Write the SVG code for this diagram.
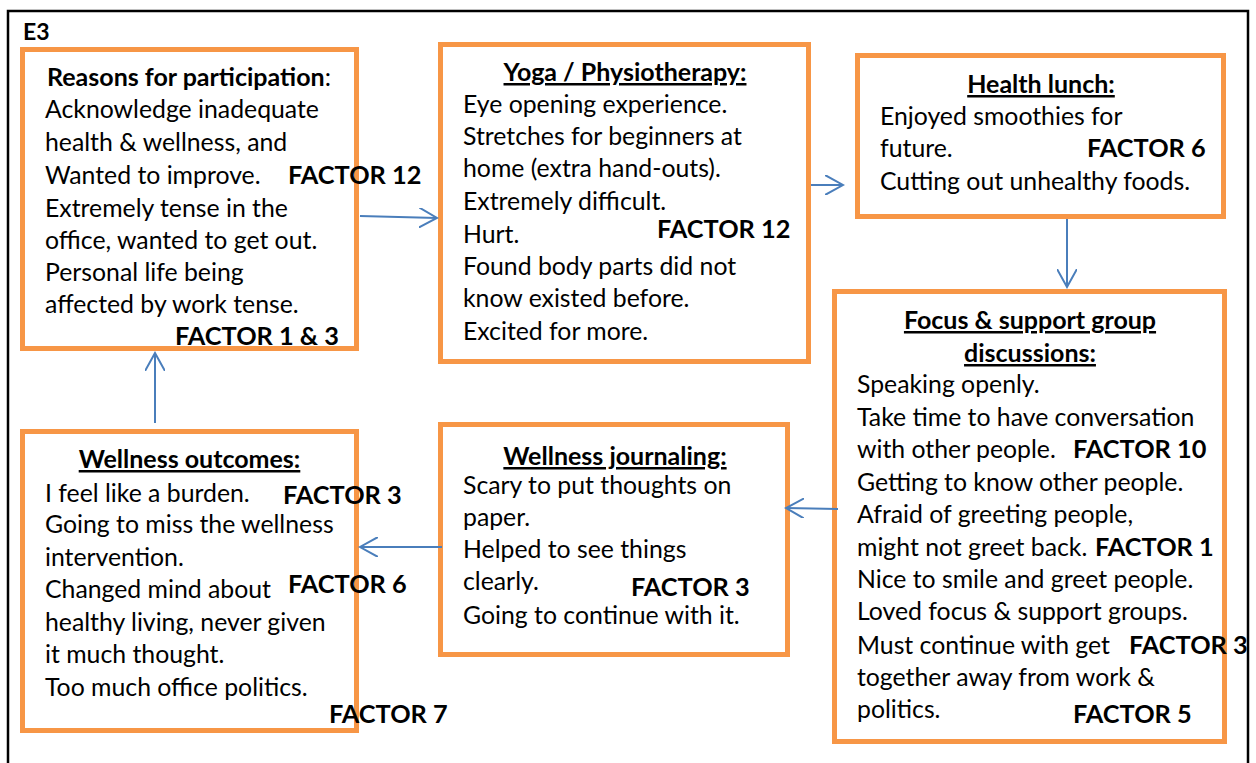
<svg xmlns="http://www.w3.org/2000/svg" width="1256" height="763" viewBox="0 0 1256 763">
  <style>
    .box { fill: #ffffff; stroke: #F79646; stroke-width: 5; }
    .frame { fill: none; stroke: #000000; stroke-width: 2.5; }
    text { font-family: Lato, "Open Sans", "Liberation Sans", sans-serif; fill: #000000; }
    .t { font-size: 24.8px; }
    .h { font-size: 25px; font-weight: bold; }
    .u { text-decoration: underline; }
    .f { font-size: 25.3px; font-weight: bold; }
    .lbl { font-size: 23px; font-weight: bold; }
    .conn { stroke: #4A7EBB; stroke-width: 2; fill: none; marker-end: url(#arrow); }
  </style>
  <defs>
    <marker id="arrow" viewBox="0 0 10 10" refX="9" refY="5" markerWidth="10" markerHeight="10" orient="auto" markerUnits="strokeWidth">
      <path d="M0,0 L9,5 L0,10" fill="none" stroke="#4A7EBB" stroke-width="1"/>
    </marker>
  </defs>

  <rect x="0" y="0" width="1256" height="763" fill="#ffffff"/>
  <rect class="frame" x="8" y="11" width="1240" height="800"/>
  <text class="lbl" x="23" y="40">E3</text>

  <g id="reasons">
    <rect class="box" x="22.5" y="49.5" width="334" height="299"/>
    <text x="47" y="86" class="h">Reasons for participation<tspan font-weight="normal">:</tspan></text>
    <text class="t" x="45" y="118">Acknowledge inadequate</text>
    <text class="t" x="45" y="151">health &amp; wellness, and</text>
    <text class="t" x="45" y="184">Wanted to improve.</text>
    <text class="t" x="45" y="217">Extremely tense in the</text>
    <text class="t" x="45" y="249">office, wanted to get out.</text>
    <text class="t" x="45" y="281">Personal life being</text>
    <text class="t" x="45" y="313">affected by work tense.</text>
    <text class="f" x="288" y="184">FACTOR 12</text>
    <text class="f" x="175" y="345">FACTOR 1 &amp; 3</text>
  </g>

  <g id="yoga">
    <rect class="box" x="440.5" y="44.5" width="368" height="317"/>
    <text class="h u" x="625" y="81" text-anchor="middle">Yoga / Physiotherapy:</text>
    <text class="t" x="463" y="113">Eye opening experience.</text>
    <text class="t" x="463" y="145">Stretches for beginners at</text>
    <text class="t" x="463" y="177">home (extra hand-outs).</text>
    <text class="t" x="463" y="210">Extremely difficult.</text>
    <text class="t" x="463" y="243">Hurt.</text>
    <text class="t" x="463" y="275">Found body parts did not</text>
    <text class="t" x="463" y="307">know existed before.</text>
    <text class="t" x="463" y="340">Excited for more.</text>
    <text class="f" x="657" y="238">FACTOR 12</text>
  </g>

  <g id="lunch">
    <rect class="box" x="857.5" y="55.5" width="366" height="161"/>
    <text class="h u" x="1041" y="93" text-anchor="middle">Health lunch:</text>
    <text class="t" x="880" y="125">Enjoyed smoothies for</text>
    <text class="t" x="880" y="157">future.</text>
    <text class="t" x="880" y="190">Cutting out unhealthy foods.</text>
    <text class="f" x="1087" y="157">FACTOR 6</text>
  </g>

  <g id="focus">
    <rect class="box" x="834.5" y="291.5" width="390" height="450"/>
    <text class="h u" x="1030" y="329" text-anchor="middle">Focus &amp; support group</text>
    <text class="h u" x="1030" y="362" text-anchor="middle">discussions:</text>
    <text class="t" x="857" y="393">Speaking openly.</text>
    <text class="t" x="857" y="426">Take time to have conversation</text>
    <text class="t" x="857" y="458">with other people.</text>
    <text class="t" x="857" y="491">Getting to know other people.</text>
    <text class="t" x="857" y="523">Afraid of greeting people,</text>
    <text class="t" x="857" y="556">might not greet back.</text>
    <text class="t" x="857" y="588">Nice to smile and greet people.</text>
    <text class="t" x="857" y="620">Loved focus &amp; support groups.</text>
    <text class="t" x="857" y="654">Must continue with get</text>
    <text class="t" x="857" y="686">together away from work &amp;</text>
    <text class="t" x="857" y="718">politics.</text>
    <text class="f" x="1073" y="458">FACTOR 10</text>
    <text class="f" x="1095" y="556">FACTOR 1</text>
    <text class="f" x="1129" y="654">FACTOR 3</text>
    <text class="f" x="1073" y="723">FACTOR 5</text>
  </g>

  <g id="journaling">
    <rect class="box" x="440.5" y="424.5" width="347" height="230"/>
    <text class="h u" x="615" y="465" text-anchor="middle">Wellness journaling:</text>
    <text class="t" x="463" y="494">Scary to put thoughts on</text>
    <text class="t" x="463" y="526">paper.</text>
    <text class="t" x="463" y="558">Helped to see things</text>
    <text class="t" x="463" y="590">clearly.</text>
    <text class="t" x="463" y="624">Going to continue with it.</text>
    <text class="f" x="631" y="596">FACTOR 3</text>
  </g>

  <g id="outcomes">
    <rect class="box" x="22.5" y="431.5" width="334" height="299"/>
    <text class="h u" x="189.5" y="468" text-anchor="middle">Wellness outcomes:</text>
    <text class="t" x="45" y="502">I feel like a burden.</text>
    <text class="t" x="45" y="533">Going to miss the wellness</text>
    <text class="t" x="45" y="566">intervention.</text>
    <text class="t" x="45" y="598">Changed mind about</text>
    <text class="t" x="45" y="631">healthy living, never given</text>
    <text class="t" x="45" y="663">it much thought.</text>
    <text class="t" x="45" y="696">Too much office politics.</text>
    <text class="f" x="283" y="504">FACTOR 3</text>
    <text class="f" x="288" y="593">FACTOR 6</text>
    <text class="f" x="329" y="723">FACTOR 7</text>
  </g>

  <g id="connectors">
    <line class="conn" x1="360" y1="216" x2="437" y2="218"/>
    <line class="conn" x1="811" y1="185" x2="843" y2="185"/>
    <line class="conn" x1="1067" y1="219" x2="1067" y2="287"/>
    <line class="conn" x1="838" y1="509" x2="786" y2="508"/>
    <line class="conn" x1="442" y1="547" x2="360" y2="547"/>
    <line class="conn" x1="155" y1="423" x2="155" y2="353"/>
  </g>
</svg>
